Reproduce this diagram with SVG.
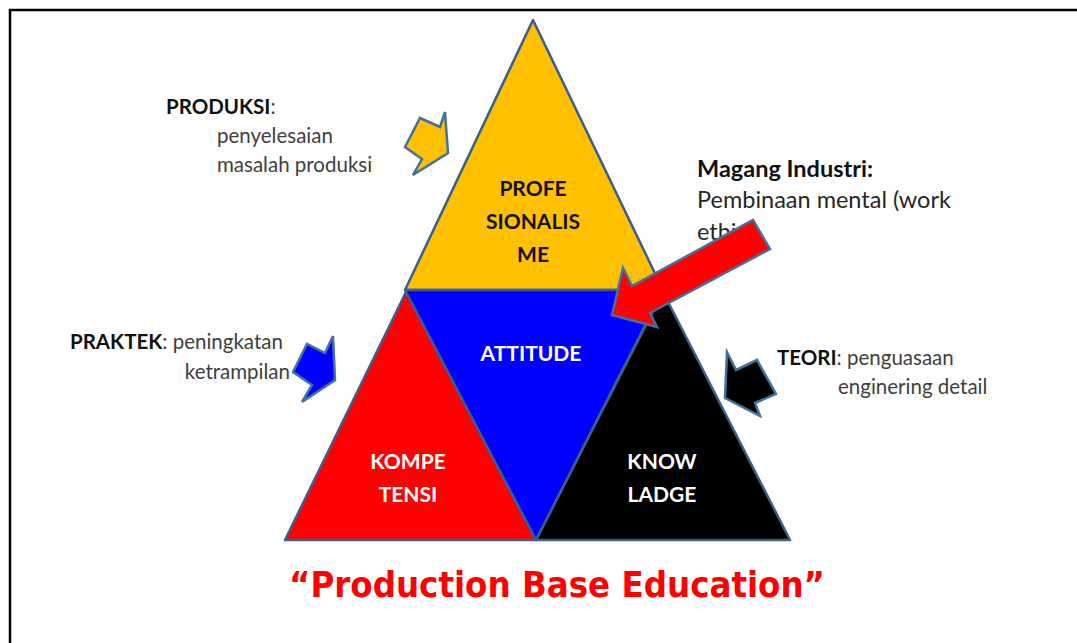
<svg xmlns="http://www.w3.org/2000/svg" width="1077" height="643" viewBox="0 0 1077 643">
<style>
.tri{stroke:#3A5F8A;stroke-width:2.5;stroke-linejoin:round}
.arr{stroke:#41719C;stroke-width:2.5;stroke-linejoin:miter}
.in{font-family:Lato,"Liberation Sans",sans-serif;font-weight:bold;font-size:21px;text-anchor:middle}
.hd{font-family:Lato,"Liberation Sans",sans-serif;font-weight:bold;fill:#111}
.tx{font-family:Lato,"Liberation Sans",sans-serif;fill:#404040}
.sm{font-size:20.5px}
.lg{font-size:23.5px}
</style>
<rect width="1077" height="643" fill="#fff"/>
<polyline points="10,643 10,10 1077,10" fill="none" stroke="#000" stroke-width="2.5"/>

<g id="profesionalisme">
<polygon class="tri" points="533,20 663,290 405,290" fill="#FFC000"/>
<text class="in" fill="#111" x="533" y="196">PROFE</text>
<text class="in" fill="#111" x="533" y="229">SIONALIS</text>
<text class="in" fill="#111" x="533" y="262">ME</text>
</g>
<g id="kompetensi">
<polygon class="tri" points="406,292 536,540 285,540" fill="#FF0000"/>
<text class="in" fill="#fff" x="408" y="469">KOMPE</text>
<text class="in" fill="#fff" x="408" y="502">TENSI</text>
</g>
<g id="knowladge">
<polygon class="tri" points="663,292 790,540 536,540" fill="#000"/>
<text class="in" fill="#fff" x="662" y="469">KNOW</text>
<text class="in" fill="#fff" x="662" y="502">LADGE</text>
</g>
<g id="attitude">
<polygon class="tri" points="405,290 663,290 536,540" fill="#0000FF"/>
<text class="in" fill="#fff" x="531" y="361">ATTITUDE</text>
</g>

<g id="label-produksi">
<text class="sm" x="166" y="114"><tspan class="hd">PRODUKSI</tspan><tspan class="tx">:</tspan></text>
<text class="tx sm" x="217" y="143">penyelesaian</text>
<text class="tx sm" x="217" y="172">masalah produksi</text>
</g>
<g id="label-praktek">
<text class="sm" x="70" y="349"><tspan class="hd">PRAKTEK</tspan><tspan class="tx">: peningkatan</tspan></text>
<text class="tx sm" x="290" y="379" text-anchor="end">ketrampilan</text>
</g>
<g id="label-teori">
<text class="sm" x="777" y="365"><tspan class="hd">TEORI</tspan><tspan class="tx">: penguasaan</tspan></text>
<text class="tx sm" x="838" y="394">enginering detail</text>
</g>
<g id="label-magang">
<text class="hd lg" x="697" y="177">Magang Industri:</text>
<text class="tx lg" x="697" y="208" style="fill:#262626">Pembinaan mental (work</text>
<text class="tx lg" x="697" y="240" style="fill:#262626">ethi</text>
</g>

<g id="connectors">
<polygon class="arr" fill="#FFC000" points="448,153 445,112 440,127 420,118 405,147 422,159 413,175"/>
<polygon class="arr" fill="#0000FF" points="335,380 333,336 325,353 307,344 293,372 312,385 302,402"/>
<polygon class="arr" fill="#000" points="725,398 727,352 736,370 757,360 776,394 755,403 760,416"/>
<polygon class="arr" fill="#FF0000" points="612,315 623,268 632,286 753,220 770,249 650,313 657,327"/>
</g>

<g id="title">
<text x="557" y="597" font-family="'DejaVu Sans',sans-serif" font-weight="bold" font-size="36" fill="#FF0000" text-anchor="middle" textLength="536" lengthAdjust="spacingAndGlyphs">“Production  Base  Education”</text>
</g>
</svg>
